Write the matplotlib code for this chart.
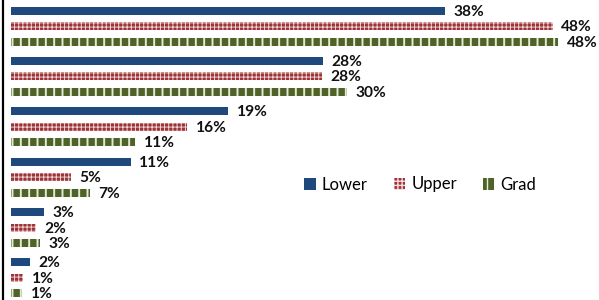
import numpy as np
import matplotlib.pyplot as plt

# shares per group
lower = [38.4, 27.6, 19.2, 10.6, 2.9, 1.7]
upper = [47.9, 27.5, 15.6, 5.3, 2.2, 1.1]
grad = [48.4, 29.7, 11.0, 7.0, 2.6, 1.0]
series_names = ["Lower", "Upper", "Grad"]

colors = ["#1F497D", "#9E3236", "#4F6228"]
hatches = [None, "++++", "||"]
hatch_colors = ["#1F497D", "#F0DCDC", "#E4EAD8"]
hatch_widths = [1.0, 0.65, 1.4]

plt.rcParams["font.family"] = ["Lato", "DejaVu Sans"]

fig = plt.figure(figsize=(5.99, 3.0), dpi=100)
ax = fig.add_axes([3 / 599, 0, 1 - 3 / 599, 1])

n = len(lower)
y = np.arange(n)
step = 15.5 / 50.4
height = 8 / 50.4

for k, vals in enumerate([lower, upper, grad]):
    pos = y + (k - 1) * step
    with plt.rc_context({"hatch.linewidth": hatch_widths[k]}):
        ax.barh(pos, vals, height=height, color=colors[k], hatch=hatches[k],
                edgecolor=hatch_colors[k], linewidth=0, label=series_names[k])
    for p, v in zip(pos, vals):
        ax.text(v + 0.75, p + 0.02, "%d%%" % round(v), va="center", ha="left",
                fontsize=11.2, fontweight="bold", color="#111111")

ax.set_xlim(-0.7, 52.0)
ax.set_ylim(5.437, -0.516)
for s in ["top", "right", "bottom"]:
    ax.spines[s].set_visible(False)
ax.spines["left"].set_linewidth(1.6)
ax.spines["left"].set_color("black")
ax.spines["left"].set_position(("data", -0.7))
ax.set_xticks([])
ax.set_yticks([])

ax.legend(loc="center", bbox_to_anchor=(0.70, 0.385), ncol=3, frameon=False,
          fontsize=12, handlelength=0.7, handleheight=0.7, handletextpad=0.35,
          columnspacing=1.55, borderpad=0)

fig.savefig("out.png", dpi=100)
